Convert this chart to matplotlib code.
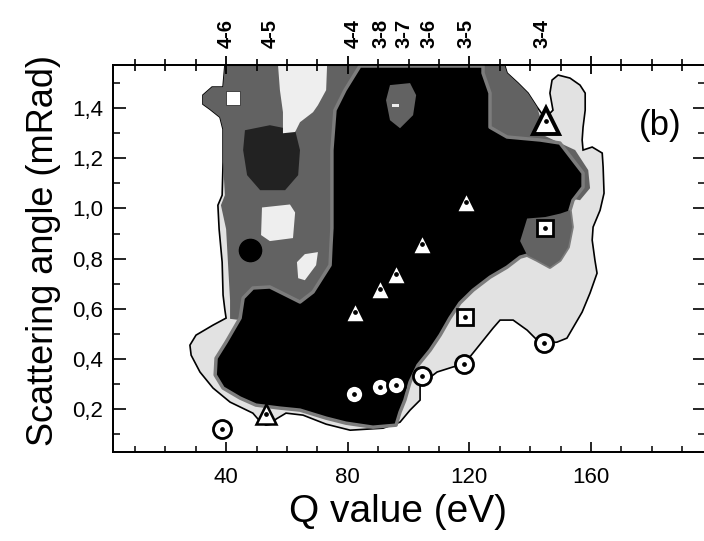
import matplotlib.pyplot as plt
from matplotlib.patches import Polygon
from matplotlib.ticker import MultipleLocator, FuncFormatter
import matplotlib.transforms as mtransforms

plt.rcParams['font.family'] = ['Liberation Sans', 'DejaVu Sans']

# transitions marked along the top axis (Q value, eV)
trans_names = ['4-6', '4-5', '4-4', '3-8', '3-7', '3-6', '3-5', '3-4']
trans_q = [40, 54.5, 81.7, 90.8, 98.6, 106.6, 119, 144]

# measured points (Q value, scattering angle)
circ_q = [38.7, 82.1, 90.5, 95.8, 104.3, 118.4, 144.7]
circ_t = [0.120, 0.259, 0.287, 0.298, 0.333, 0.378, 0.462]
tri_q = [53.1, 82.3, 90.7, 96.0, 104.5, 118.8]
tri_t = [0.179, 0.588, 0.678, 0.738, 0.857, 1.027]
bigtri_q = [145.1]
bigtri_t = [1.348]
sq_q = [118.6, 144.9]
sq_t = [0.566, 0.924]
open_sq_q = [42.3]
open_sq_t = [1.439]

# contour levels as (Q, angle) outlines
outer = [(39.6, 1.568), (39.0, 1.484), (35.4, 1.484), (32.4, 1.452), (32.4, 1.416),
         (34.7, 1.396), (38.0, 1.364), (39.0, 1.316), (39.0, 1.185), (38.7, 1.053),
         (37.3, 1.013), (37.7, 0.918), (38.7, 0.786), (39.0, 0.655), (39.6, 0.595),
         (40.0, 0.563), (35.7, 0.535), (30.1, 0.495), (28.1, 0.455), (28.5, 0.415),
         (31.4, 0.348), (35.7, 0.284), (41.3, 0.228), (48.8, 0.184), (50.8, 0.156),
         (51.5, 0.148), (53.1, 0.136), (55.1, 0.140), (56.4, 0.160), (59.7, 0.184),
         (65.3, 0.176), (72.9, 0.140), (80.8, 0.116), (91.6, 0.124), (97.2, 0.148),
         (100.5, 0.196), (103.8, 0.236), (103.8, 0.296), (109.4, 0.348), (114.6, 0.368),
         (118.3, 0.380), (122.5, 0.443), (127.8, 0.523), (130.1, 0.555), (134.4, 0.555),
         (139.0, 0.515), (142.3, 0.475), (144.6, 0.463), (148.8, 0.467), (152.1, 0.483),
         (157.1, 0.587), (159.7, 0.663), (162.0, 0.742), (161.3, 0.794), (160.4, 0.874),
         (160.7, 0.926), (163.0, 0.993), (164.3, 1.061), (164.0, 1.165), (163.7, 1.221),
         (160.4, 1.245), (157.4, 1.233), (157.1, 1.273), (157.4, 1.324), (158.1, 1.392),
         (158.1, 1.460), (156.4, 1.492), (153.1, 1.520), (149.2, 1.532), (147.2, 1.512),
         (146.5, 1.460), (147.5, 1.392), (144.9, 1.360), (142.3, 1.404), (139.3, 1.460),
         (136.0, 1.500), (132.4, 1.540), (131.7, 1.568)]

mid_left = [(39.6, 1.568), (85.7, 1.568), (85.7, 1.352), (77.5, 1.033), (75.8, 0.714),
            (64.3, 0.595), (51.2, 0.615), (44.6, 0.555), (41.3, 0.560), (41.3, 0.635),
            (40.6, 0.786), (40.0, 0.918), (38.3, 1.013), (39.6, 1.053), (39.0, 1.185),
            (39.0, 1.316), (38.0, 1.364), (34.7, 1.396), (32.4, 1.416), (32.4, 1.452),
            (35.4, 1.484), (39.0, 1.484)]

mid_right = [(124.5, 1.568), (131.7, 1.568), (132.4, 1.540), (136.0, 1.500), (139.3, 1.460),
             (142.3, 1.404), (143.6, 1.352), (142.3, 1.304), (149.8, 1.261), (154.8, 1.233),
             (159.1, 1.153), (159.7, 1.081), (156.4, 1.033), (126.8, 1.100)]

black_main = [(84.0, 1.568), (124.5, 1.568), (124.5, 1.540), (126.8, 1.460), (126.8, 1.324),
              (132.4, 1.285), (143.3, 1.273), (149.8, 1.261), (154.1, 1.193), (157.4, 1.141),
              (157.4, 1.085), (154.1, 1.033), (153.1, 0.993), (153.8, 0.926), (152.5, 0.846),
              (149.8, 0.794), (146.5, 0.766), (142.3, 0.794), (139.0, 0.814), (136.7, 0.806),
              (132.4, 0.766), (126.8, 0.726), (121.2, 0.674), (116.9, 0.623), (113.6, 0.563),
              (110.4, 0.495), (107.1, 0.435), (103.1, 0.375), (100.5, 0.308), (98.8, 0.236),
              (97.2, 0.188), (95.9, 0.136), (88.3, 0.128), (79.4, 0.144), (72.9, 0.164),
              (64.3, 0.196), (57.7, 0.204), (49.8, 0.216), (44.6, 0.244), (39.0, 0.284),
              (36.4, 0.336), (36.7, 0.403), (40.0, 0.467), (44.6, 0.563), (45.6, 0.643),
              (48.8, 0.683), (54.4, 0.687), (59.7, 0.655), (64.3, 0.627), (68.6, 0.667),
              (74.2, 0.774), (74.5, 0.854), (74.8, 0.922), (74.8, 1.233), (75.8, 1.392),
              (79.1, 1.472)]

black_left = [(46.2, 1.312), (54.4, 1.332), (62.7, 1.312), (64.3, 1.233), (63.7, 1.133),
              (59.4, 1.073), (51.2, 1.073), (46.9, 1.133), (45.6, 1.233)]
black_spot_q = [47.9]
black_spot_t = [0.834]

mid_lobe = [(139.0, 0.960), (145.0, 0.966), (150.0, 0.980), (153.1, 0.993), (153.8, 0.926),
            (152.5, 0.846), (149.8, 0.794), (146.5, 0.766), (142.3, 0.794), (139.0, 0.814),
            (136.7, 0.870)]
mid_top = [(93.9, 1.492), (100.5, 1.500), (102.5, 1.452), (101.5, 1.372), (97.2, 1.320),
           (93.9, 1.352), (92.6, 1.432)]

light_top = [(57.1, 1.568), (73.2, 1.568), (72.9, 1.472), (70.2, 1.412), (68.6, 1.384),
             (64.3, 1.344), (62.7, 1.305), (58.7, 1.300), (58.7, 1.384), (57.7, 1.472)]
light_a = [(51.8, 1.004), (61.0, 1.016), (62.7, 0.984), (62.0, 0.882), (54.4, 0.870),
           (51.5, 0.894)]
light_b = [(65.9, 0.818), (70.2, 0.826), (69.6, 0.774), (65.9, 0.714), (63.7, 0.722),
           (63.3, 0.786)]
light_dash = [(94.5, 1.418), (97.0, 1.418), (97.0, 1.406), (94.5, 1.406)]

LIGHT = '#e2e2e2'
MID = '#626262'

fig = plt.figure(figsize=(7.04, 5.41), dpi=100)
ax = fig.add_axes([0.1605, 0.1645, 0.8409, 0.7153])

ax.add_patch(Polygon(outer, closed=True, facecolor=LIGHT, edgecolor='black', lw=1.2, zorder=1))
for pts in (mid_left, mid_right):
    ax.add_patch(Polygon(pts, closed=True, facecolor=MID, edgecolor='none', zorder=2))
ax.add_patch(Polygon(black_main, closed=True, facecolor='black', edgecolor='#7c7c7c',
                     lw=2.5, joinstyle='round', zorder=3))
ax.add_patch(Polygon(black_left, closed=True, facecolor='#222222', edgecolor='none', zorder=3))
ax.plot(black_spot_q, black_spot_t, 'o', ms=16, color='black', zorder=3)
for pts in (mid_lobe, mid_top):
    ax.add_patch(Polygon(pts, closed=True, facecolor=MID, edgecolor='none', zorder=4))
for pts in (light_top, light_a, light_b, light_dash):
    ax.add_patch(Polygon(pts, closed=True, facecolor='#eeeeee', edgecolor='none', zorder=4))

ax.plot(circ_q, circ_t, 'o', ms=13, mfc='white', mec='black', mew=2, zorder=6)
ax.plot(tri_q, tri_t, '^', ms=14, mfc='white', mec='black', mew=1.8, zorder=6)
ax.plot(bigtri_q, bigtri_t, '^', ms=19, mfc='white', mec='black', mew=2.8, zorder=6)
ax.plot(sq_q, sq_t, 's', ms=11, mfc='white', mec='black', mew=2, zorder=6)
ax.plot(open_sq_q, open_sq_t, 's', ms=10, mfc='white', mec='#333333', mew=0.6, zorder=6)
ax.plot(circ_q + tri_q + bigtri_q + sq_q, circ_t + tri_t + bigtri_t + sq_t, 'o',
        ms=2.4, color='black', zorder=7)

ax.set_xlim(2.8, 197.5)
ax.set_ylim(0.029, 1.572)

ax.xaxis.set_major_locator(MultipleLocator(40))
ax.xaxis.set_minor_locator(MultipleLocator(10))
ax.yaxis.set_major_locator(MultipleLocator(0.2))
ax.yaxis.set_minor_locator(MultipleLocator(0.1))
ax.yaxis.set_major_formatter(FuncFormatter(lambda v, p: f'{v:.1f}'.replace('.', ',')))

ax.tick_params(axis='x', which='major', direction='in', length=7, width=1.2,
               labelsize=16, pad=11, top=False)
ax.tick_params(axis='x', which='minor', direction='in', length=4.5, width=1.1, top=False)
ax.tick_params(axis='y', which='major', direction='in', length=9, width=1.2,
               labelsize=16, pad=7, right=True)
ax.tick_params(axis='y', which='minor', direction='in', length=5, width=1.1, right=True)

# top axis: ticks cross the spine
ax2 = ax.twiny()
ax2.set_xlim(ax.get_xlim())
ax2.xaxis.set_major_locator(MultipleLocator(40))
ax2.xaxis.set_minor_locator(MultipleLocator(10))
ax2.tick_params(axis='x', which='major', direction='inout', length=13, width=1.3, labeltop=False)
ax2.tick_params(axis='x', which='minor', direction='inout', length=9, width=1.2)

for a in (ax, ax2):
    for s in a.spines.values():
        s.set_linewidth(1.3)

trans = mtransforms.blended_transform_factory(ax.transData, ax.transAxes)
for name, q in zip(trans_names, trans_q):
    ax.text(q, 1.045, name, transform=trans, rotation=90, ha='center', va='bottom',
            fontsize=14.5, fontweight='bold')

ax.text(182.7, 1.33, '(b)', fontsize=25, ha='center', va='center')

ax.set_xlabel('Q value (eV)', fontsize=28)
ax.xaxis.set_label_coords(0.481, -0.108)
ax.set_ylabel('Scattering angle (mRad)', fontsize=26)
ax.yaxis.set_label_coords(-0.088, 0.52)

fig.savefig('out.png', dpi=100)
